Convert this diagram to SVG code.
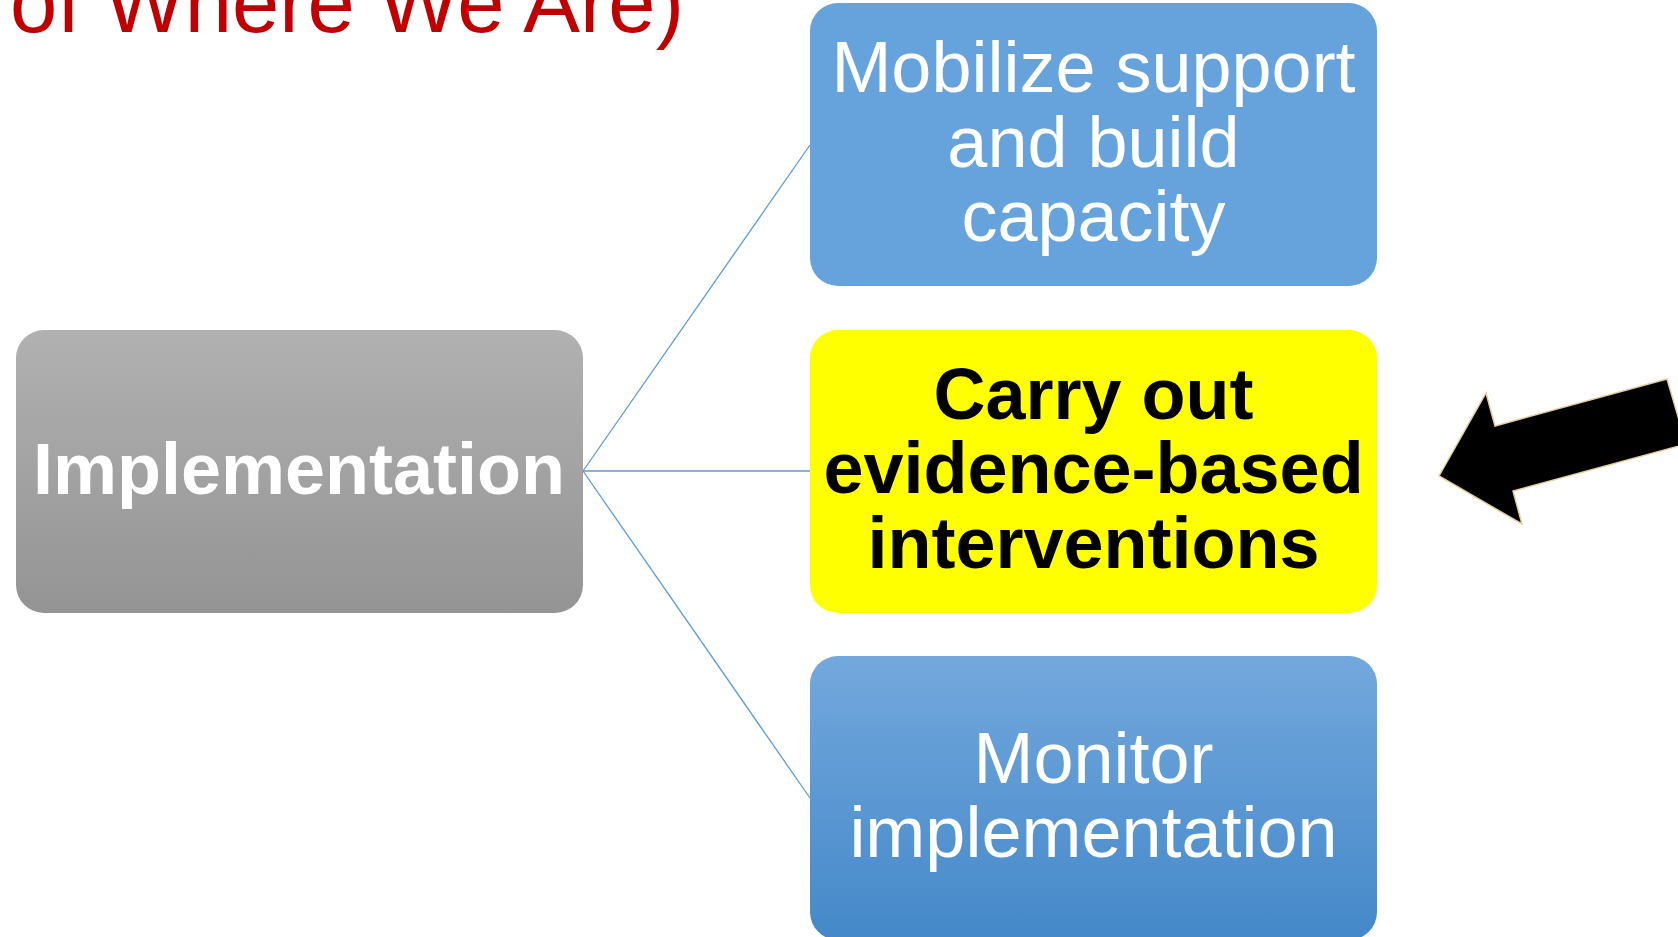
<svg xmlns="http://www.w3.org/2000/svg" width="1678" height="937" viewBox="0 0 1678 937">
<style>
.reg{font-family:"Liberation Sans",Arial,sans-serif;font-size:72px;text-anchor:middle}
.bold{font-family:"Liberation Sans",Arial,sans-serif;font-size:72px;font-weight:bold;text-anchor:middle}
.conn{stroke:#5B9BD5;stroke-width:1.3;fill:none}
</style>
<defs>
<linearGradient id="gGray" x1="0" y1="0" x2="0" y2="1">
<stop offset="0" stop-color="#B1B1B1"/>
<stop offset="1" stop-color="#949494"/>
</linearGradient>
<linearGradient id="gBlue" x1="0" y1="0" x2="0" y2="1">
<stop offset="0" stop-color="#73A8DD"/>
<stop offset="1" stop-color="#4488C9"/>
</linearGradient>
</defs>
<rect width="1678" height="937" fill="#FFFFFF"/>
<text x="10" y="32" font-family="Liberation Sans, Arial, sans-serif" font-size="85" fill="#C00000">of Where We Are)</text>
<g id="connectors">
<line class="conn" x1="583" y1="471" x2="810" y2="145"/>
<line class="conn" x1="583" y1="471" x2="810" y2="471"/>
<line class="conn" x1="583" y1="471" x2="810" y2="798"/>
</g>
<g id="implementation">
<rect x="16" y="330" width="567" height="283" rx="28" fill="url(#gGray)"/>
<text class="bold" x="299" y="494" fill="#FFFFFF">Implementation</text>
</g>
<g id="mobilize">
<rect x="810" y="3" width="567" height="283" rx="28" fill="#66A2DB"/>
<text class="reg" fill="#FFFFFF"><tspan x="1093.5" y="92">Mobilize support</tspan><tspan x="1093.5" y="167">and build</tspan><tspan x="1093.5" y="241">capacity</tspan></text>
</g>
<g id="carry-out">
<rect x="810" y="330" width="567" height="283" rx="28" fill="#FFFF00"/>
<text class="bold" fill="#000000"><tspan x="1093.5" y="419">Carry out</tspan><tspan x="1093.5" y="493">evidence-based</tspan><tspan x="1093.5" y="568">interventions</tspan></text>
</g>
<g id="monitor">
<rect x="810" y="656" width="567" height="284" rx="28" fill="url(#gBlue)"/>
<text class="reg" fill="#FFFFFF"><tspan x="1093.5" y="783">Monitor</tspan><tspan x="1093.5" y="857">implementation</tspan></text>
</g>
<g id="arrow">
<polygon points="1439,476 1486,393 1495,426 1667,379 1686,444 1513,491 1522,524" fill="#000000" stroke="#E3CFA0" stroke-width="1.5" stroke-linejoin="miter"/>
</g>
</svg>
